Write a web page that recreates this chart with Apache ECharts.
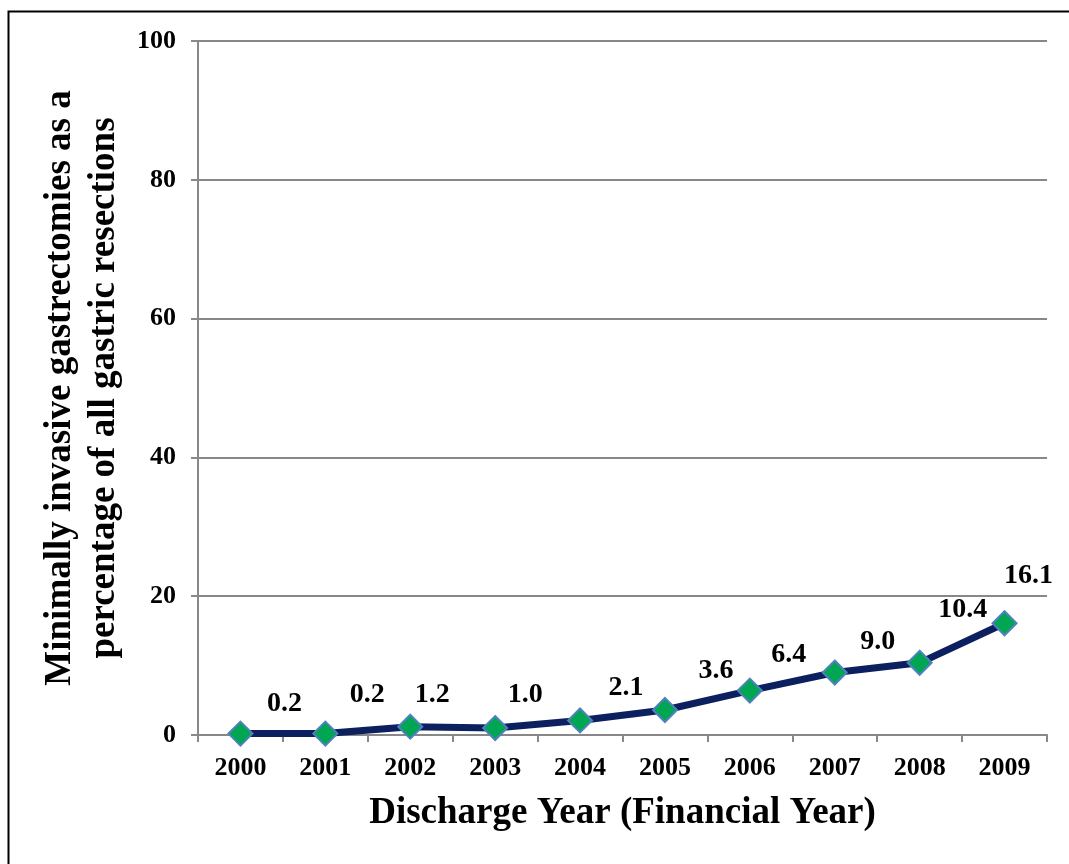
<!DOCTYPE html>
<html>
<head>
<meta charset="utf-8">
<style>
  html, body { margin: 0; padding: 0; background: #fff; }
  #chart { width: 1069px; height: 864px; }
</style>
<script src="https://cdn.jsdelivr.net/npm/echarts@6/dist/echarts.min.js"></script>
</head>
<body>
<div id="chart"></div>
<script>
// 数据
var years = ['2000', '2001', '2002', '2003', '2004', '2005', '2006', '2007', '2008', '2009'];
var percents = [0.2, 0.2, 1.2, 1.0, 2.1, 3.6, 6.4, 9.0, 10.4, 16.1];
var yTicks = [0, 20, 40, 60, 80, 100];

// 数据标签的偏移 (原图中标签位置不统一)
var labelOffsets = [[44, 2], [42, -7], [22, 0], [30, -1], [46, -1], [51, -7], [39, -4], [43, 1], [43, -21], [24, -16]];

var font = '"Liberation Serif", "Times New Roman", serif';

var seriesData = [];
for (var i = 0; i < percents.length; i++) {
  seriesData.push({
    value: percents[i],
    label: { offset: labelOffsets[i] }
  });
}

var chart = echarts.init(document.getElementById('chart'));
var option = {
  animation: false,
  backgroundColor: '#fff',
  textStyle: { fontFamily: font },
  graphic: [
    {
      // 外框 (左、上)
      type: 'rect',
      shape: { x: 8.5, y: 11.5, width: 1200, height: 1000 },
      style: { fill: 'none', stroke: '#000', lineWidth: 2 }
    }
  ],
  grid: { left: 198, right: 22, top: 41, bottom: 129, outerBoundsMode: 'none', containLabel: false },
  xAxis: {
    type: 'category',
    data: years,
    boundaryGap: true,
    name: 'Discharge Year (Financial Year)',
    nameLocation: 'middle',
    nameGap: 60,
    nameTextStyle: { fontFamily: font, fontSize: 37, fontWeight: 'bold', color: '#000' },
    axisLine: { lineStyle: { color: '#888', width: 2 } },
    axisTick: { show: true, length: 7, lineStyle: { color: '#888', width: 2 } },
    axisLabel: { fontFamily: font, fontSize: 26, fontWeight: 'bold', color: '#000', margin: 20 }
  },
  yAxis: {
    type: 'value',
    min: yTicks[0],
    max: yTicks[yTicks.length - 1],
    interval: 20,
    name: 'Minimally invasive gastrectomies as a\npercentage of all gastric resections',
    nameLocation: 'middle',
    nameRotate: 90,
    nameGap: 59,
    nameTextStyle: { fontFamily: font, fontSize: 37, fontWeight: 'bold', color: '#000', lineHeight: 44 },
    axisLine: { show: true, lineStyle: { color: '#888', width: 2 } },
    axisTick: { show: true, length: 7, lineStyle: { color: '#888', width: 2 } },
    axisLabel: { fontFamily: font, fontSize: 26, fontWeight: 'bold', color: '#000', margin: 22 },
    splitLine: { show: true, lineStyle: { color: '#888', width: 2 } }
  },
  series: [
    {
      type: 'line',
      data: seriesData,
      symbol: 'diamond',
      symbolSize: 24,
      lineStyle: { color: '#0c1f5e', width: 7 },
      itemStyle: { color: '#00a651', borderColor: '#4f81bd', borderWidth: 2 },
      label: {
        show: true,
        position: 'top',
        formatter: function (p) { return p.value.toFixed(1); },
        fontFamily: font,
        fontSize: 28,
        fontWeight: 'bold',
        color: '#000'
      },
      z: 3
    }
  ]
};
chart.setOption(option);

window.onresize = function () {
  chart.resize();
};
</script>
</body>
</html>
